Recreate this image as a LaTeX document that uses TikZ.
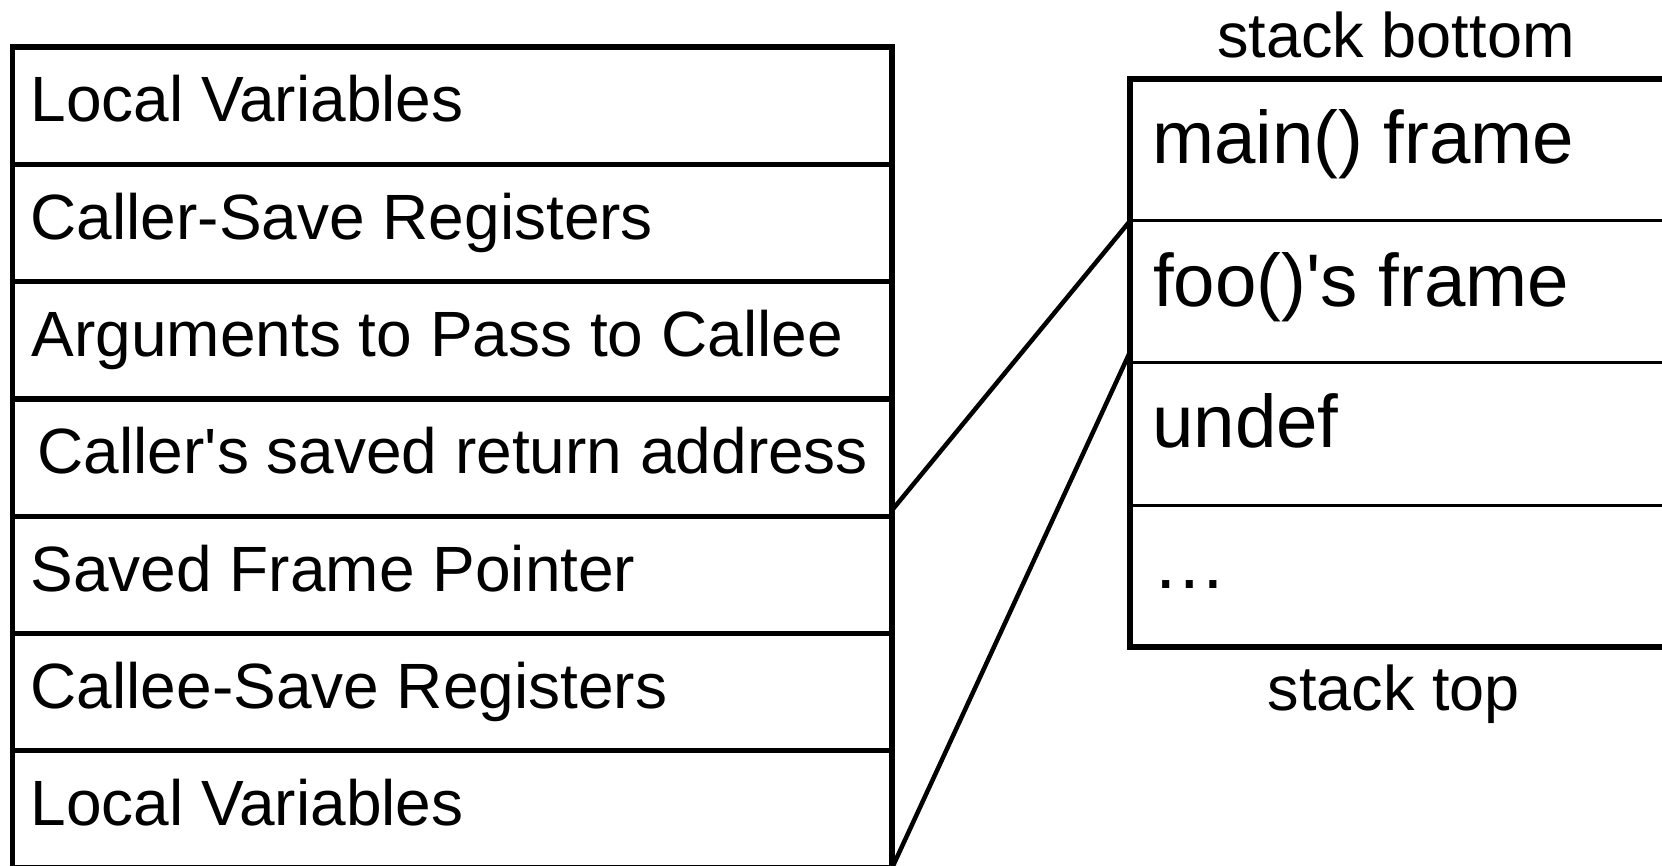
\documentclass[tikz,border=0pt]{standalone}
\usepackage{fontspec}
\setmainfont{Liberation Sans}[Ligatures=TeXOff]
\usetikzlibrary{calc}
\begin{document}
\begin{tikzpicture}[x=1pt,y=-1pt,
  framerow/.style={draw, line width=5.3pt, minimum width=879.5pt, minimum height=117.3pt,
    inner sep=0pt, outer sep=0pt, anchor=north west},
  slotrow/.style={draw, line width=3pt, minimum width=560pt, minimum height=142pt,
    inner sep=0pt, outer sep=0pt, anchor=north west},
  ltext/.style={anchor=base west, inner sep=0pt, font=\fontsize{64}{76}\selectfont},
  rtext/.style={anchor=base west, inner sep=0pt, font=\fontsize{74.5}{88}\selectfont},
  caption/.style={anchor=base, inner sep=0pt, font=\fontsize{63}{75}\selectfont},
  link/.style={line width=4.5pt}]
\useasboundingbox (0,0) rectangle (1662,866);

% activation record of foo()
\node[framerow] (L1) at (12.5,47) {};
\node[framerow] (L2) at (L1.south west) {};
\node[framerow] (L3) at (L2.south west) {};
\node[framerow] (L4) at (L3.south west) {};
\node[framerow] (L5) at (L4.south west) {};
\node[framerow] (L6) at (L5.south west) {};
\node[framerow] (L7) at (L6.south west) {};

\node[ltext] (T1) at ($(L1.north west)+(18,75)$) {Local Variables};
\node[ltext] (T2) at ($(L2.north west)+(18,75)$) {Caller-Save Registers};
\node[ltext] (T3) at ($(L3.north west)+(19,75)$) {Arguments to Pass to Callee};
\node[ltext] (T4) at ($(L4.north west)+(25,75)$) {Caller's saved return address};
\node[ltext] (T5) at ($(L5.north west)+(18,75)$) {Saved Frame Pointer};
\node[ltext] (T6) at ($(L6.north west)+(18,75)$) {Callee-Save Registers};
\node[ltext] (T7) at ($(L7.north west)+(18,75)$) {Local Variables};

% the call stack
\node[slotrow] (R1) at (1130,79) {};
\node[slotrow] (R2) at (R1.south west) {};
\node[slotrow] (R3) at (R2.south west) {};
\node[slotrow] (R4) at (R3.south west) {};
\draw[line width=5.3pt] (R1.north west) rectangle (R4.south east);

\node[rtext] (S1) at ($(R1.north west)+(22,85)$) {main() frame};
\node[rtext] (S2) at ($(R2.north west)+(23,86)$) {foo()'s frame};
\node[rtext] (S3) at ($(R3.north west)+(22,84)$) {undef};
\node[rtext] (S4) at ($(R4.north west)+(22,83)$) {…};

\node[caption] (SB) at (1396,58) {stack bottom};
\node[caption] (ST) at (1394,710) {stack top};

% foo()'s frame expanded
\draw[link] ($(L4.south east)+(0,-6)$) -- (R2.north west);
\draw[link] (L7.south east) -- ($(R2.south west)+(0,-11)$);
\end{tikzpicture}
\end{document}
